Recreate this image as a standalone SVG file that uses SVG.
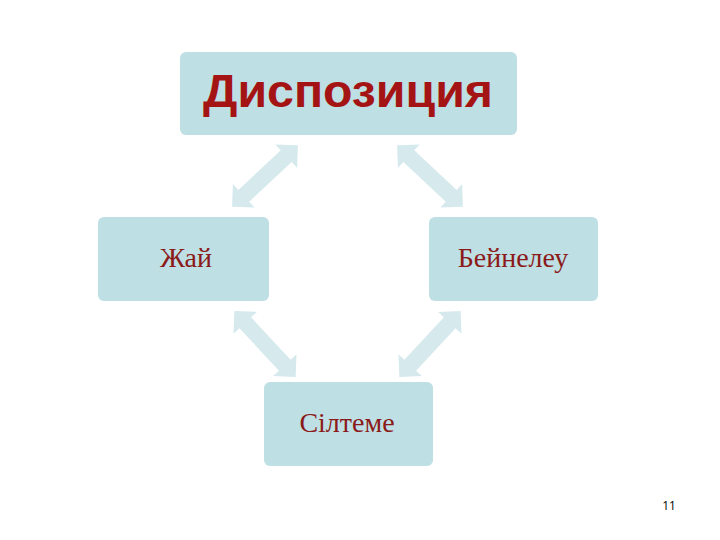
<svg xmlns="http://www.w3.org/2000/svg" width="720" height="540" viewBox="0 0 720 540">
<style>
.box{fill:#BEDFE3;}
.arr{fill:#D6EAEE;}
.lbl{font-family:"Liberation Serif","Times New Roman",serif;font-size:28px;fill:#8B1A1A;text-anchor:middle;}
.title{font-family:"Liberation Sans",Arial,sans-serif;font-weight:bold;font-size:46px;fill:#A51414;text-anchor:middle;}
</style>
<defs>
<path id="dbl" d="M -45,0 L -29,-16 L -29,-8 L 29,-8 L 29,-16 L 45,0 L 29,16 L 29,8 L -29,8 L -29,16 Z"/>
</defs>
<rect width="720" height="540" fill="#FFFFFF"/>
<g id="connectors">
<use href="#dbl" class="arr" transform="translate(265,176) rotate(-43)"/>
<use href="#dbl" class="arr" transform="translate(430,176) rotate(43)"/>
<use href="#dbl" class="arr" transform="translate(265,344) rotate(47)"/>
<use href="#dbl" class="arr" transform="translate(430,344) rotate(-47)"/>
</g>
<g id="node-disposition">
<rect class="box" x="180" y="52" width="337" height="83" rx="6"/>
<text class="title" x="348" y="107" textLength="290" lengthAdjust="spacingAndGlyphs">Диспозиция</text>
</g>
<g id="node-zhai">
<rect class="box" x="98" y="217" width="171" height="84" rx="6"/>
<text class="lbl" x="186" y="267">Жай</text>
</g>
<g id="node-beineleu">
<rect class="box" x="429" y="217" width="169" height="84" rx="6"/>
<text class="lbl" x="513" y="267">Бейнелеу</text>
</g>
<g id="node-silteme">
<rect class="box" x="264" y="382" width="169" height="84" rx="6"/>
<text class="lbl" x="347" y="432">Сілтеме</text>
</g>
<text x="669" y="510" font-family="'Open Sans','Liberation Sans',sans-serif" font-size="12" fill="#000000" text-anchor="middle">11</text>
</svg>
